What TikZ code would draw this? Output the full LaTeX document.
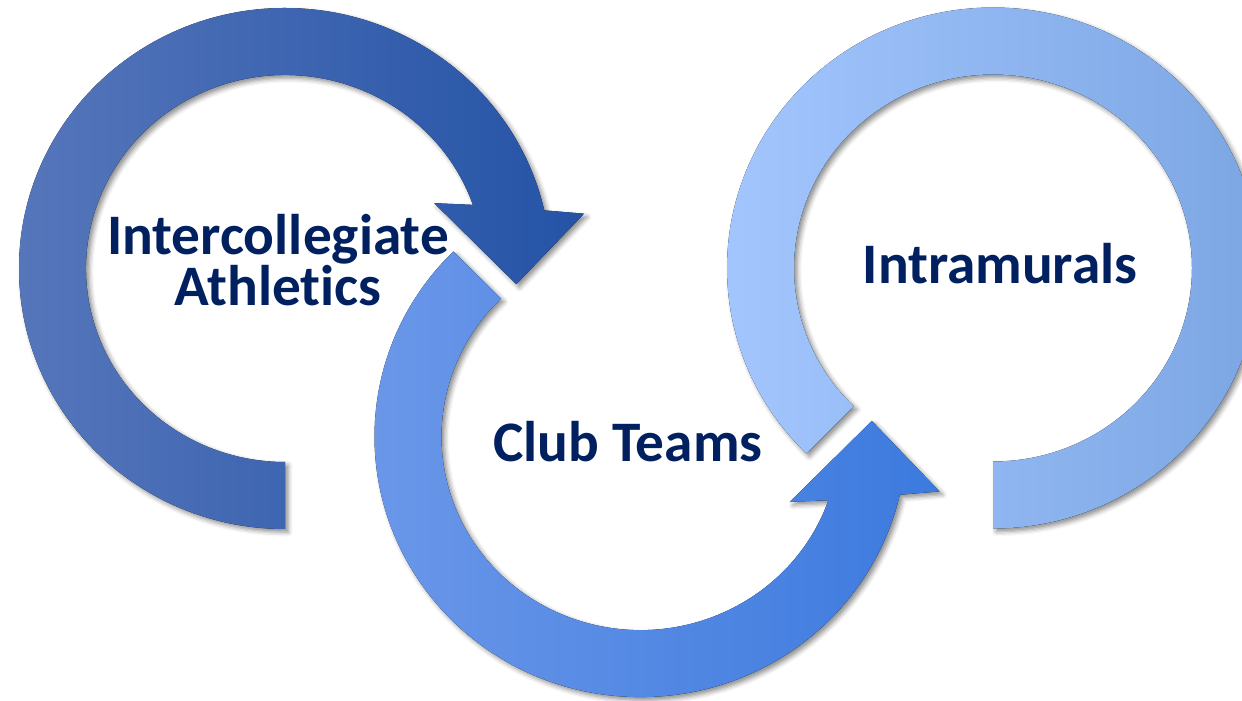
\documentclass[tikz,border=0pt]{standalone}
\usepackage{fontspec}
\newfontfamily\lblfont{Carlito}[Ligatures=NoCommon]
\usetikzlibrary{shadows.blur}

\definecolor{navy}{RGB}{0,32,96}
\definecolor{darkL}{RGB}{86,118,187}
\definecolor{darkR}{RGB}{36,83,166}
\definecolor{midL}{RGB}{108,152,233}
\definecolor{midR}{RGB}{60,122,222}
\definecolor{lightL}{RGB}{165,199,255}
\definecolor{lightR}{RGB}{122,165,226}

\begin{document}
\begin{tikzpicture}[x=0.01cm, y=-0.01cm,
            ring/.style={blur shadow={shadow xshift=0.9pt, shadow yshift=-0.9pt,
                        shadow blur radius=1.3pt, shadow opacity=45}},
            lbl/.style={text=navy, font=\lblfont\bfseries\fontsize{16.3}{14.6}\selectfont,
                    align=center, inner sep=0pt}
        ]
        \useasboundingbox (0,0) rectangle (1242,701);
        \clip (0,0) rectangle (1242,701);

        % Right ring, open at the lower left
        \begin{scope}[shift={(993,268)}]
            \fill[ring, left color=lightL, right color=lightR]
            (134.6:266 and 260.5) arc[start angle=134.6, end angle=450, x radius=266, y radius=260.5]
            -- (450:199 and 193.5) arc[start angle=450, end angle=134.4, x radius=199, y radius=193.5]
            -- cycle;
        \end{scope}

        % Middle arrow, turning up into the right ring
        \begin{scope}[shift={(640.5,436.6)}]
            \fill[ring, left color=midL, right color=midR]
            (225.3:266 and 260.5) arc[start angle=225.3, end angle=12.9, x radius=266, y radius=260.5]
            -- (299,54.8) -- (231.3,-15.7) -- (149.3,65.3)
            -- (19.2:199 and 193.5) arc[start angle=19.2, end angle=225.5, x radius=199, y radius=193.5]
            -- cycle;
        \end{scope}

        % Left arrow, turning down into the middle one
        \begin{scope}[shift={(285,268.5)}]
            \fill[ring, left color=darkL, right color=darkR]
            (90:266 and 260.5) arc[start angle=90, end angle=347.1, x radius=266, y radius=260.5]
            -- (299,-54.8) -- (231.3,15.7) -- (149.3,-65.3)
            -- (340.8:199 and 193.5) arc[start angle=340.8, end angle=90, x radius=199, y radius=193.5]
            -- cycle;
        \end{scope}

        % Labels
        \node[lbl, anchor=base] (inter) at (278,306) {Intercollegiate\\Athletics};
        \node[lbl, anchor=base] (club) at (628,462) {Club Teams};
        \node[lbl, anchor=base] (intra) at (1000,284) {Intramurals};
    \end{tikzpicture}
\end{document}
